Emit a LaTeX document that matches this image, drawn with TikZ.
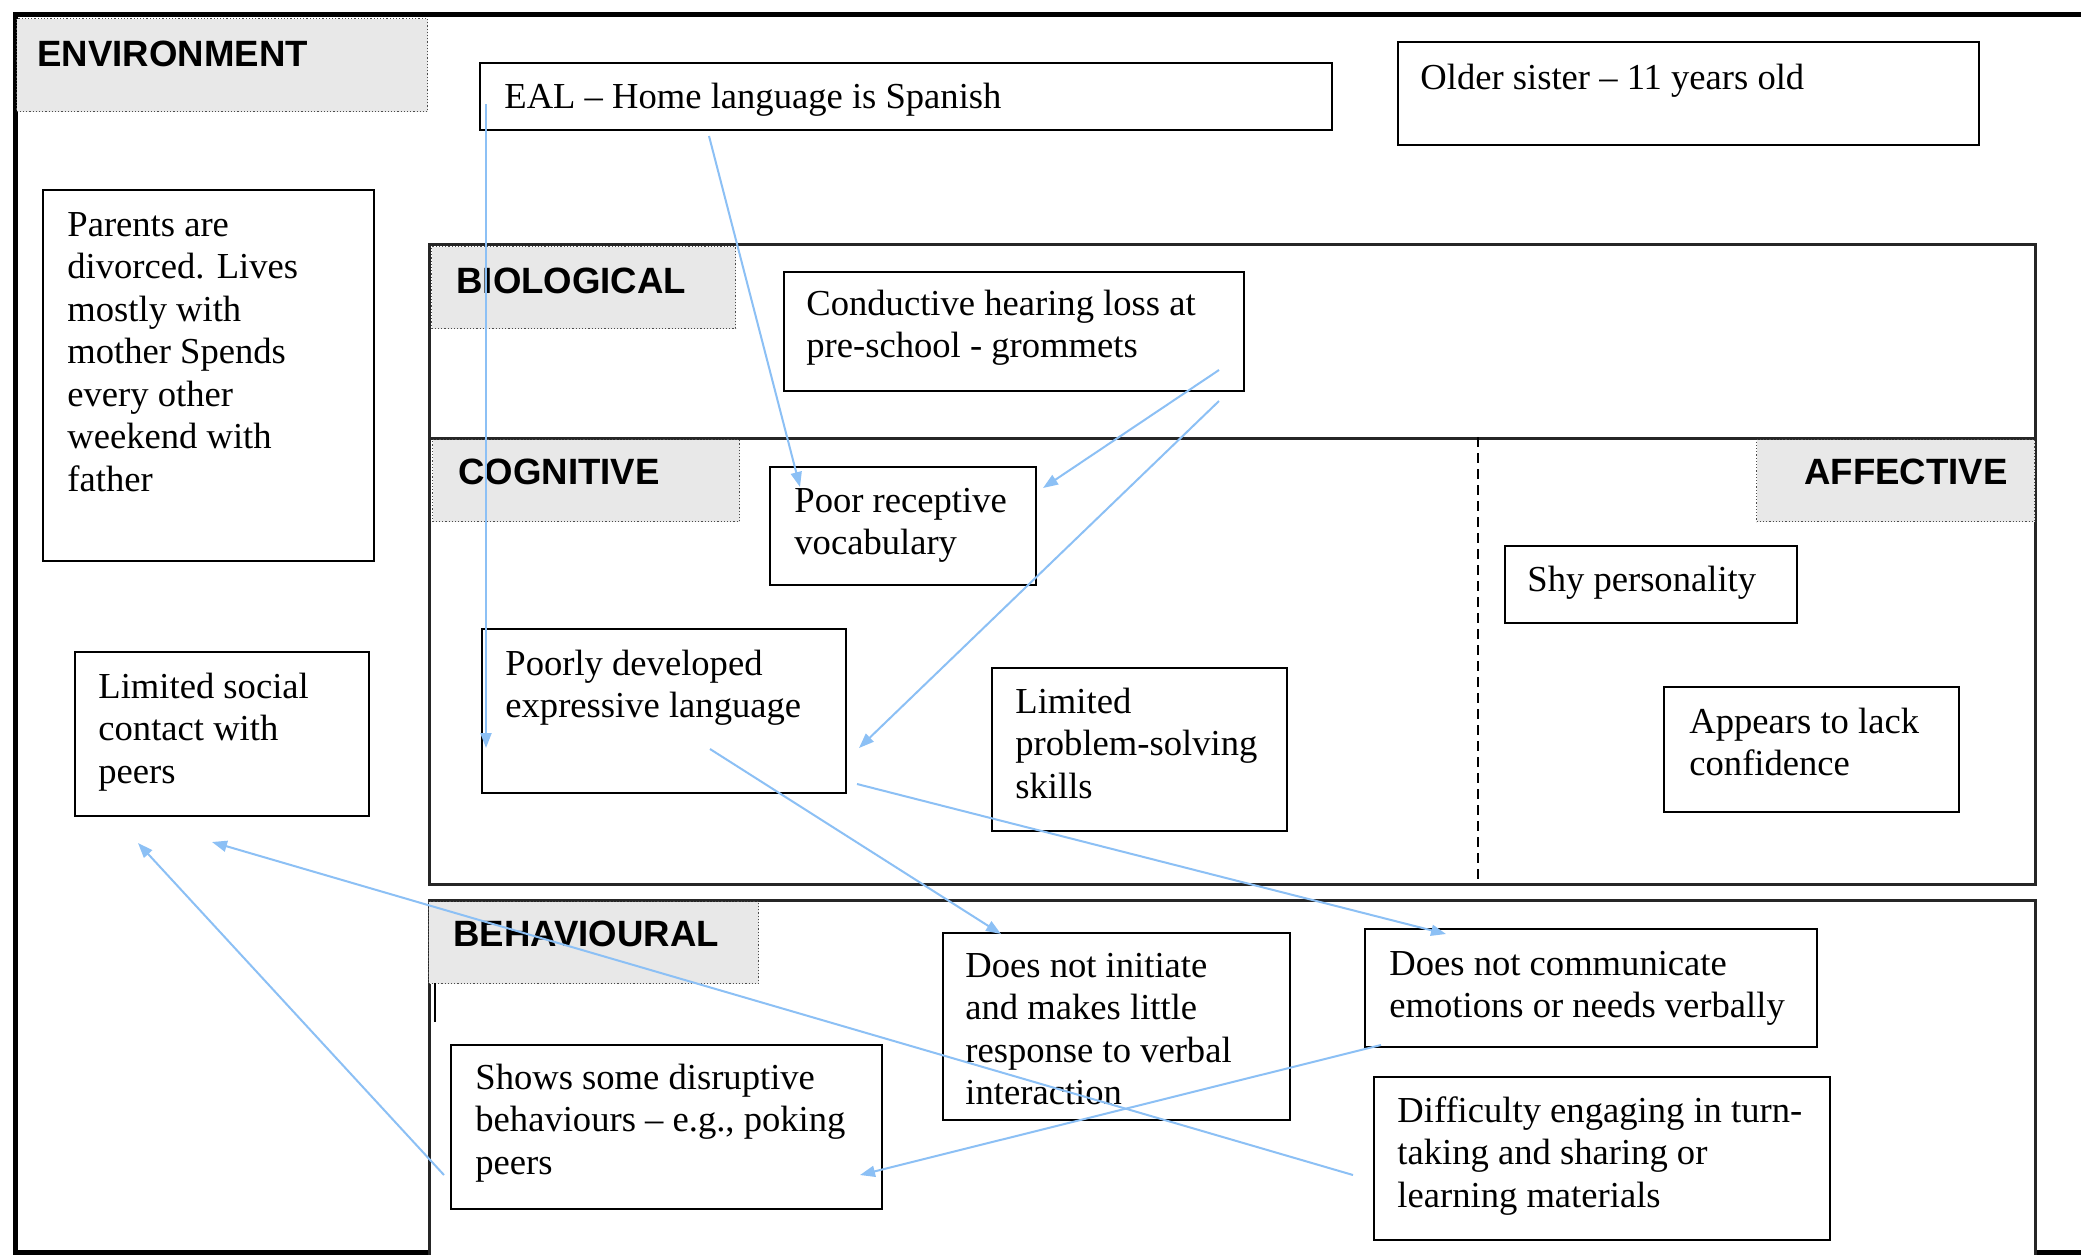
\documentclass[tikz,border=0pt]{standalone}
\usepackage{fontspec}
\setmainfont{Liberation Serif}
\newfontfamily\lblfont{Liberation Sans}
\usetikzlibrary{arrows.meta}
\definecolor{arrowblue}{RGB}{140,192,245}
\definecolor{labelgray}{RGB}{232,232,232}
\newcommand\mltext[1]{\begin{tabular}[t]{@{}l@{}}#1\end{tabular}}
\begin{document}
\begin{tikzpicture}[x=0.5pt,y=-0.5pt,
  box/.style={draw=black, line width=1pt, fill=white, inner sep=0, anchor=north west},
  region/.style={draw=black!85, line width=1.4pt, inner sep=0, anchor=north west},
  lbl/.style={fill=labelgray, draw=black!70, line width=0.6pt, densely dotted, inner sep=0, anchor=north west},
  lbltext/.style={inner sep=0, anchor=base west, font=\lblfont\bfseries\fontsize{18.3pt}{21.25pt}\selectfont},
  txt/.style={inner sep=0, anchor=base west, font=\fontsize{18.3pt}{21.25pt}\selectfont},
  arr/.style={draw=arrowblue, line width=1pt, -{Triangle[length=7.5pt,width=5.5pt]}}
]
\useasboundingbox (0,0) rectangle (2081,1254);
\clip (0,0) rectangle (2081,1254);
\fill[white] (0,0) rectangle (2081,1254);

% outer frame
\node[draw=black, line width=2.5pt, inner sep=0, anchor=north west, minimum width=1043.5pt, minimum height=619pt] (frame) at (13,12) {};

% regions
\node[region, minimum width=803pt, minimum height=97pt] (bio) at (428,243) {};
\node[region, minimum width=803pt, minimum height=223pt] (cog) at (428,437) {};
\node[region, fill=white, minimum width=803pt, minimum height=185.5pt] (beh) at (428,899) {};
\coordinate (divtop) at (1478,437);
\coordinate (divbot) at (1478,883);
\draw[line width=0.6pt, dash pattern=on 5pt off 3pt] (divtop) -- (divbot);

% label boxes
\node[lbl, minimum width=205.5pt, minimum height=46.5pt] (envl) at (16,18) {};
\node[lbl, minimum width=152pt, minimum height=41pt] (biol) at (431,246) {};
\node[lbl, minimum width=153.5pt, minimum height=41pt] (cogl) at (432,439) {};
\node[lbl, minimum width=139pt, minimum height=41pt] (affl) at (1756,439) {};
\node[lbl, minimum width=165pt, minimum height=41pt] (behl) at (428,901) {};
\node[lbltext] (envt) at (37,66) {ENVIRONMENT};
\node[lbltext] (biot) at (456,293) {BIOLOGICAL};
\node[lbltext] (cogt) at (458,484) {COGNITIVE};
\node[lbltext, anchor=base east] (afft) at (2008,484) {AFFECTIVE};
\node[lbltext] (beht) at (453,946) {BEHAVIOURAL};
\draw[line width=0.8pt] (435,983) -- (435,1022);

% boxes
\node[box, minimum width=426pt, minimum height=33.5pt] (eal) at (479,62) {};
\node[box, minimum width=290.5pt, minimum height=51.5pt] (older) at (1397,41) {};
\node[box, minimum width=165.5pt, minimum height=185.5pt] (parents) at (42,189) {};
\node[box, minimum width=230pt, minimum height=59.5pt] (cond) at (783,271) {};
\node[box, minimum width=133pt, minimum height=59pt] (poorrec) at (769,466) {};
\node[box, minimum width=146pt, minimum height=38.5pt] (shy) at (1504,545) {};
\node[box, minimum width=182pt, minimum height=82pt] (poorexp) at (481,628) {};
\node[box, minimum width=147.5pt, minimum height=81.5pt] (limprob) at (991,667) {};
\node[box, minimum width=147.5pt, minimum height=62.5pt] (appears) at (1663,686) {};
\node[box, minimum width=147pt, minimum height=82pt] (limsoc) at (74,651) {};
\node[box, minimum width=173.5pt, minimum height=93.5pt] (initiate) at (942,932) {};
\node[box, minimum width=226pt, minimum height=59pt] (commun) at (1364,928) {};
\node[box, minimum width=228pt, minimum height=81.5pt] (difficulty) at (1373,1076) {};
\node[box, minimum width=215.5pt, minimum height=82pt] (shows) at (450,1044) {};

% texts
\node[txt] (ealt) at (504,108) {EAL – Home language is Spanish};
\node[txt] (oldert) at (1420,89) {Older sister – 11 years old};
\node[txt] (parentst) at (67,236) {\mltext{Parents are\\divorced. Lives\\mostly with\\mother Spends\\every other\\weekend with\\father}};
\node[txt] (condt) at (806,315) {\mltext{Conductive hearing loss at\\pre-school - grommets}};
\node[txt] (poorrect) at (794,512) {\mltext{Poor receptive\\vocabulary}};
\node[txt] (shyt) at (1527,591) {Shy personality};
\node[txt] (poorexpt) at (505,675) {\mltext{Poorly developed\\expressive language}};
\node[txt] (limprobt) at (1015,713) {\mltext{Limited\\problem-solving\\skills}};
\node[txt] (appearst) at (1689,733) {\mltext{Appears to lack\\confidence}};
\node[txt] (limsoct) at (98,698) {\mltext{Limited social\\contact with\\peers}};
\node[txt] (initiatet) at (965,977) {\mltext{Does not initiate\\and makes little\\response to verbal\\interaction}};
\node[txt] (communt) at (1389,975) {\mltext{Does not communicate\\emotions or needs verbally}};
\node[txt] (difficultyt) at (1397,1122) {\mltext{Difficulty engaging in turn-\\taking and sharing or\\learning materials}};
\node[txt] (showst) at (475,1089) {\mltext{Shows some disruptive\\behaviours – e.g., poking\\peers}};

% arrow end points
\coordinate (ealA) at (486,104);
\coordinate (poorexpA) at (486,748);
\coordinate (ealB) at (709,136);
\coordinate (poorrecB) at (800,487);
\coordinate (condC) at (1219,370);
\coordinate (poorrecC) at (1043,488);
\coordinate (condD) at (1219,401);
\coordinate (poorexpD) at (859,748);
\coordinate (poorexpE) at (710,749);
\coordinate (initiateE) at (1001,934);
\coordinate (poorexpF) at (857,784);
\coordinate (communF) at (1446,934);
\coordinate (communG) at (1381,1045);
\coordinate (showsG) at (860,1175);
\coordinate (difficultyH) at (1353,1175);
\coordinate (limsocH) at (212,842);
\coordinate (showsI) at (444,1175);
\coordinate (limsocI) at (138,843);

% arrows
\draw[arr] (ealA) -- (poorexpA);
\draw[arr] (ealB) -- (poorrecB);
\draw[arr] (condC) -- (poorrecC);
\draw[arr] (condD) -- (poorexpD);
\draw[arr] (poorexpE) -- (initiateE);
\draw[arr] (poorexpF) -- (communF);
\draw[arr] (communG) -- (showsG);
\draw[arr] (difficultyH) -- (limsocH);
\draw[arr] (showsI) -- (limsocI);
\end{tikzpicture}
\end{document}
